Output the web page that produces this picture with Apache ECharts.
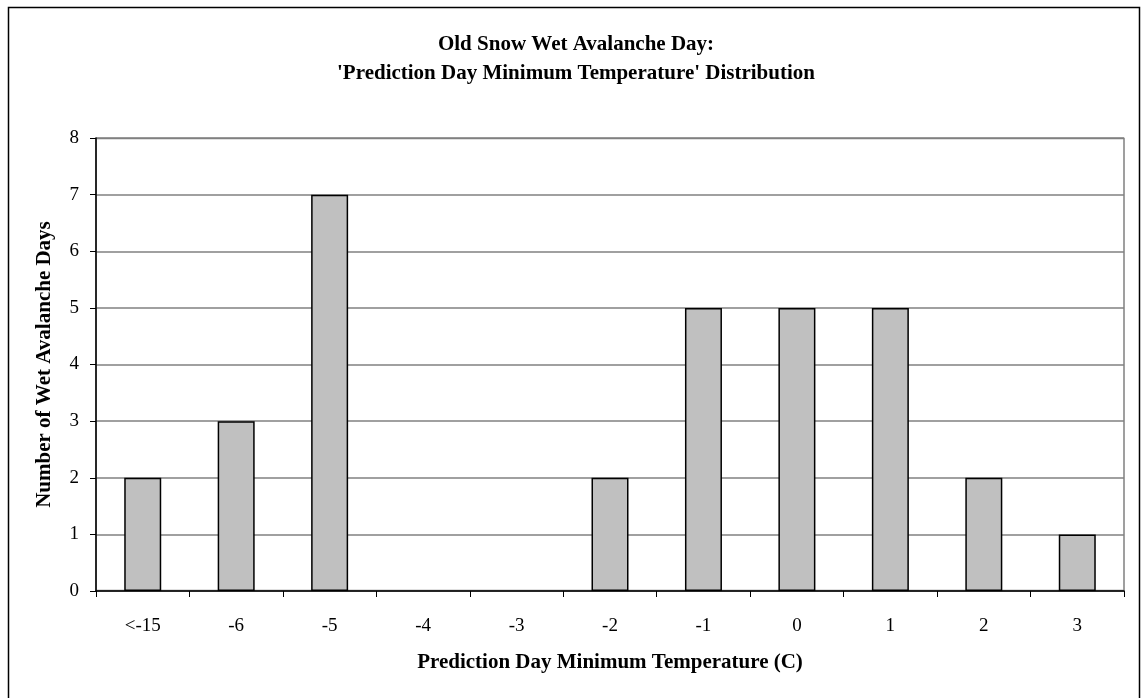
<!DOCTYPE html>
<html>
<head>
<meta charset="utf-8">
<script src="https://cdn.jsdelivr.net/npm/echarts@6/dist/echarts.min.js"></script>
<style>
  html, body { margin: 0; padding: 0; background: #fff; }
  #chart { width: 1141px; height: 698px; }
</style>
</head>
<body>
<div id="chart"></div>
<script>
// Minimum temperature bins (C) and number of wet avalanche days in each
const categories = ['<-15', '-6', '-5', '-4', '-3', '-2', '-1', '0', '1', '2', '3'];
const dayCounts = [2, 3, 7, 0, 0, 2, 5, 5, 5, 2, 1];
const yTicks = [0, 1, 2, 3, 4, 5, 6, 7, 8];

const font = '"Liberation Serif", "Times New Roman", serif';
const chart = echarts.init(document.getElementById('chart'), null, { renderer: 'canvas' });

// Empty bins get no outline so nothing is drawn on the baseline
const barData = dayCounts.map(v => v === 0
  ? { value: v, itemStyle: { borderWidth: 0 } }
  : v);

chart.setOption({
  animation: false,
  backgroundColor: '#fff',
  graphic: [
    {
      type: 'rect',
      shape: { x: 8.5, y: 7.5, width: 1131, height: 700 },
      style: { fill: 'none', stroke: '#000', lineWidth: 1.5 },
      z: 0
    },
    {
      type: 'rect',
      shape: { x: 96, y: 138.5, width: 1028, height: 452 },
      style: { fill: 'none', stroke: '#808080', lineWidth: 1.5 },
      z: 0
    }
  ],
  title: {
    text: "Old Snow Wet Avalanche Day:\n'Prediction Day Minimum Temperature' Distribution",
    left: 571,
    top: 25,
    textAlign: 'center',
    textStyle: {
      fontFamily: font,
      fontSize: 21,
      fontWeight: 'bold',
      color: '#000',
      lineHeight: 29
    }
  },
  grid: { left: 96, right: 17, top: 138, bottom: 107, containLabel: false },
  xAxis: {
    type: 'category',
    data: categories,
    boundaryGap: true,
    name: 'Prediction Day Minimum Temperature (C)',
    nameLocation: 'middle',
    nameGap: 61,
    nameTextStyle: { fontFamily: font, fontSize: 21, fontWeight: 'bold', color: '#000' },
    axisLine: { lineStyle: { color: '#000', width: 1.5 } },
    axisTick: { show: true, alignWithLabel: false, inside: false, length: 6, lineStyle: { color: '#000', width: 1 } },
    axisLabel: { fontFamily: font, fontSize: 19, color: '#000', margin: 26 },
    splitLine: { show: false }
  },
  yAxis: {
    type: 'value',
    min: yTicks[0],
    max: yTicks[yTicks.length - 1],
    interval: 1,
    name: 'Number of Wet Avalanche Days',
    nameLocation: 'middle',
    nameGap: 41,
    nameRotate: 90,
    nameTextStyle: { fontFamily: font, fontSize: 21, fontWeight: 'bold', color: '#000' },
    axisLine: { show: true, lineStyle: { color: '#000', width: 1.5 } },
    axisTick: { show: true, length: 6, lineStyle: { color: '#000', width: 1 } },
    axisLabel: { fontFamily: font, fontSize: 19, color: '#000', margin: 17 },
    splitLine: { show: true, lineStyle: { color: '#808080', width: 1.5 } }
  },
  series: [
    {
      type: 'bar',
      data: barData,
      barWidth: 37,
      itemStyle: { color: '#c0c0c0', borderColor: '#000', borderWidth: 1.5 },
      z: 3
    }
  ]
});
</script>
</body>
</html>
